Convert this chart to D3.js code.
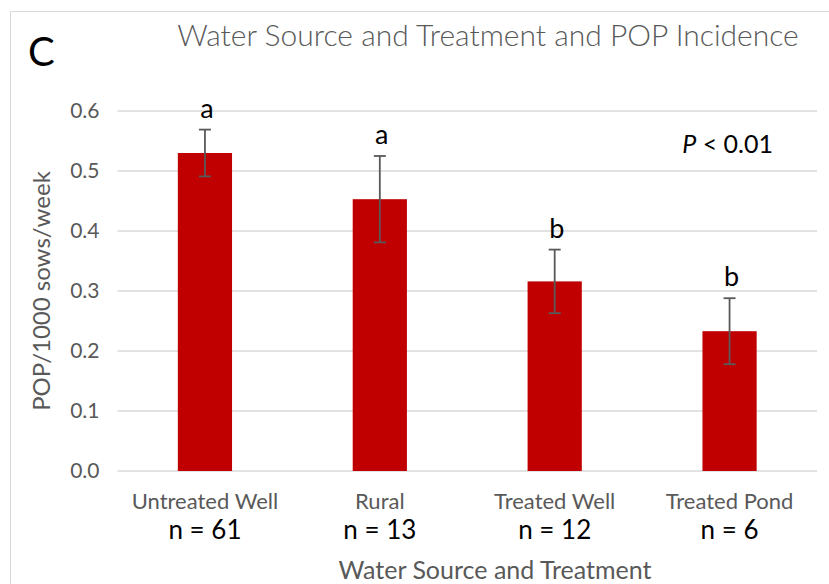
<!DOCTYPE html>
<html>
<head>
<meta charset="utf-8">
<script src="https://cdn.jsdelivr.net/npm/d3@7"></script>
<style>
  body { margin: 0; background: #fff; }
  text { font-family: Lato, "Open Sans", sans-serif; }
</style>
</head>
<body>
<script>
var categories = ["Untreated Well", "Rural", "Treated Well", "Treated Pond"]
var counts = ["n = 61", "n = 13", "n = 12", "n = 6"]
var values = [0.530, 0.453, 0.316, 0.233]
var errors = [0.039, 0.072, 0.053, 0.055]
var letters = ["a", "a", "b", "b"]
var yTicks = [0, 0.1, 0.2, 0.3, 0.4, 0.5, 0.6]

var width = 829, height = 584
var margin = {l: 117.5, r: 12, t: 111, b: 113}
var grid_color = "#d9d9d9", label_color = "#595959", bar_color = "#c00000"

var svg = d3.select("body").append("svg")
    .attr("width", width)
    .attr("height", height)

// chart frame
svg.append("rect")
    .attr("x", 10.5)
    .attr("y", 11.5)
    .attr("width", width)
    .attr("height", height)
    .attr("fill", "none")
    .attr("stroke", grid_color)

var x = d3.scaleBand()
    .domain(categories)
    .range([margin.l, width - margin.r])
    .paddingInner(0.69)
    .paddingOuter(0.345)

var y = d3.scaleLinear()
    .domain([0, 0.6])
    .range([height - margin.b, margin.t])

// grid
svg.append("g")
    .selectAll("line")
    .data(yTicks)
    .enter()
    .append("line")
    .attr("x1", margin.l)
    .attr("x2", width - margin.r)
    .attr("y1", function (d) { return y(d) })
    .attr("y2", function (d) { return y(d) })
    .style("stroke", grid_color)
    .style("stroke-width", 1.5)

// y axis labels
var yAxis = d3.axisLeft(y)
    .tickValues(yTicks)
    .tickFormat(d3.format(".1f"))
    .tickSize(0)
    .tickPadding(18)
var ya = svg.append("g")
    .attr("transform", "translate(" + margin.l + ",0)")
    .call(yAxis)
ya.select(".domain").remove()
ya.selectAll("text")
    .style("font-size", "21px")
    .style("fill", label_color)
    .style("font-family", "Lato")

// bars
svg.append("g")
    .selectAll("rect")
    .data(values)
    .enter()
    .append("rect")
    .attr("x", function (d, i) { return x(categories[i]) })
    .attr("width", x.bandwidth())
    .attr("y", function (d) { return y(d) })
    .attr("height", function (d) { return y(0) - y(d) })
    .attr("fill", bar_color)

// error bars
var eb = svg.append("g")
    .selectAll("g")
    .data(values)
    .enter()
    .append("g")
    .attr("stroke", "#595959")
    .attr("stroke-width", 1.8)
eb.append("line")
    .attr("x1", function (d, i) { return x(categories[i]) + x.bandwidth() / 2 })
    .attr("x2", function (d, i) { return x(categories[i]) + x.bandwidth() / 2 })
    .attr("y1", function (d, i) { return y(d + errors[i]) })
    .attr("y2", function (d, i) { return y(d - errors[i]) })
eb.selectAll(".cap")
    .data(function (d, i) { return [[d + errors[i], i], [d - errors[i], i]] })
    .enter()
    .append("line")
    .attr("class", "cap")
    .attr("x1", function (d) { return x(categories[d[1]]) + x.bandwidth() / 2 - 6 })
    .attr("x2", function (d) { return x(categories[d[1]]) + x.bandwidth() / 2 + 6 })
    .attr("y1", function (d) { return y(d[0]) })
    .attr("y2", function (d) { return y(d[0]) })

// significance letters
svg.append("g")
    .selectAll("text")
    .data(values)
    .enter()
    .append("text")
    .attr("x", function (d, i) { return x(categories[i]) + x.bandwidth() / 2 + 2 })
    .attr("y", function (d, i) { return y(d + errors[i]) - 12 })
    .attr("text-anchor", "middle")
    .style("font-size", "27px")
    .text(function (d, i) { return letters[i] })

// x category labels
svg.append("g")
    .selectAll("text")
    .data(categories)
    .enter()
    .append("text")
    .attr("x", function (d) { return x(d) + x.bandwidth() / 2 })
    .attr("y", 509)
    .attr("text-anchor", "middle")
    .style("font-size", "22px")
    .style("fill", label_color)
    .text(function (d) { return d })

svg.append("g")
    .selectAll("text")
    .data(counts)
    .enter()
    .append("text")
    .attr("x", function (d, i) { return x(categories[i]) + x.bandwidth() / 2 })
    .attr("y", 539)
    .attr("text-anchor", "middle")
    .style("font-size", "26px")
    .style("fill", "#000")
    .text(function (d) { return d })

// axis titles
svg.append("text")
    .attr("x", 495)
    .attr("y", 579)
    .attr("text-anchor", "middle")
    .style("font-size", "25px")
    .style("fill", label_color)
    .text("Water Source and Treatment")

svg.append("text")
    .attr("transform", "translate(50," + y(0.3) + ") rotate(-90)")
    .attr("text-anchor", "middle")
    .style("font-size", "24px")
    .style("fill", label_color)
    .text("POP/1000 sows/week")

// title and panel letter
svg.append("text")
    .attr("x", 488)
    .attr("y", 46)
    .attr("text-anchor", "middle")
    .style("font-size", "30px")
    .style("font-weight", 300)
    .style("fill", label_color)
    .text("Water Source and Treatment and POP Incidence")

svg.append("text")
    .attr("x", 28)
    .attr("y", 66)
    .style("font-size", "40px")
    .style("fill", "#000")
    .text("C")

var p = svg.append("text")
    .attr("x", 773)
    .attr("y", 153)
    .attr("text-anchor", "end")
    .style("font-size", "25px")
    .style("fill", "#000")
p.append("tspan").style("font-style", "italic").text("P")
p.append("tspan").text(" < 0.01")
</script>
</body>
</html>
